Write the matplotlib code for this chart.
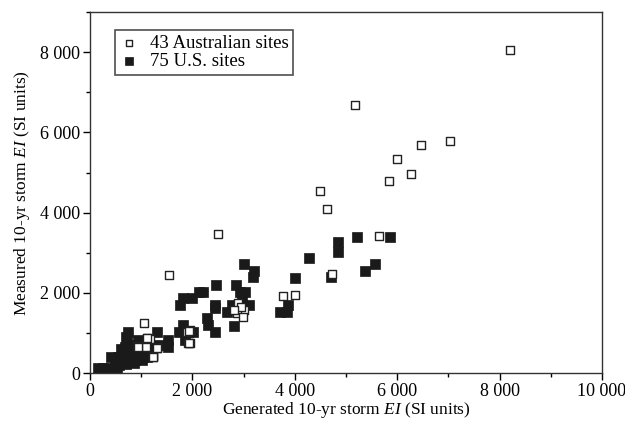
import matplotlib.pyplot as plt
from matplotlib.ticker import MultipleLocator, FuncFormatter

plt.rcParams['font.family'] = 'Liberation Serif'
plt.rcParams['mathtext.fontset'] = 'custom'
plt.rcParams['mathtext.it'] = 'Liberation Serif:italic'
plt.rcParams['mathtext.rm'] = 'Liberation Serif'

# 43 Australian sites (generated, measured)
aus_x = [8200, 7030, 6470, 6000, 6280, 5840, 5180, 4500, 4630, 5650,
         4720, 4000, 3780, 2500, 1550, 1050, 1120, 1950, 1920, 1310,
         1240, 1090, 920, 2900, 3000, 2870, 2980, 1170, 1090, 1300,
         1890, 1240, 1100, 1230, 930, 2950, 1930, 1310, 1300, 1120,
         2820, 1950, 1940]
aus_y = [8050, 5790, 5680, 5330, 4960, 4780, 6680, 4530, 4100, 3430,
         2470, 1950, 1920, 3470, 2440, 1240, 870, 1070, 740, 640,
         410, 660, 670, 1740, 1570, 1490, 1400, 860, 670, 630,
         1030, 420, 650, 400, 660, 1650, 1060, 640, 630, 880,
         1560, 740, 750]

# 75 U.S. sites
us_x = [150, 250, 350, 530, 420, 550, 750, 720, 680, 650,
        780, 910, 620, 750, 880, 1010, 940, 980, 1040, 1110,
        1140, 1170, 1300, 1530, 1530, 1730, 1820, 1860, 1920, 2020,
        1760, 1820, 1990, 2120, 2210, 2470, 2280, 2310, 2440, 2440,
        2440, 2670, 2770, 2820, 3110, 2930, 3030, 2960, 2850, 3000,
        3200, 3190, 3710, 3840, 3870, 4010, 4280, 4700, 4840, 4840,
        5220, 5860, 5380, 5570, 560, 700, 850, 600, 820, 900,
        700, 1200, 1350, 1100, 480]
us_y = [120, 120, 120, 120, 410, 410, 1030, 820, 660, 490,
        490, 490, 320, 320, 320, 320, 820, 620, 410, 410,
        660, 490, 1030, 820, 660, 1030, 1200, 820, 1030, 1030,
        1700, 1860, 1860, 2030, 2030, 2200, 1360, 1200, 1030, 1610,
        1700, 1530, 1700, 1170, 1700, 2030, 2030, 1860, 2200, 2710,
        2540, 2390, 1530, 1530, 1700, 2380, 2880, 2390, 3260, 3030,
        3400, 3400, 2540, 2720, 200, 230, 250, 600, 700, 400,
        900, 550, 700, 800, 280]

fig = plt.figure(figsize=(6.25, 4.21), dpi=100)
ax = fig.add_axes([0.144, 0.114, 0.819, 0.857])

us = ax.scatter(us_x, us_y, marker='s', s=42, c='#1a1a1a', edgecolors='#1a1a1a',
                linewidths=0.5, label='75 U.S. sites', zorder=2)
au = ax.scatter(aus_x, aus_y, marker='s', s=26, facecolors='white',
                edgecolors='#222222', linewidths=1.0, label='43 Australian sites', zorder=3)

ax.set_xlim(0, 10000)
ax.set_ylim(0, 9000)
ax.xaxis.set_major_locator(MultipleLocator(2000))
ax.xaxis.set_minor_locator(MultipleLocator(1000))
ax.yaxis.set_major_locator(MultipleLocator(2000))
ax.yaxis.set_minor_locator(MultipleLocator(1000))
fmt = FuncFormatter(lambda v, p: f'{int(v):,}'.replace(',', ' '))
ax.xaxis.set_major_formatter(fmt)
ax.yaxis.set_major_formatter(fmt)
ax.tick_params(which='major', direction='out', length=5, width=1, labelsize=13, pad=2)
ax.tick_params(which='minor', direction='out', length=3, width=1)
for sp in ax.spines.values():
    sp.set_linewidth(1.0)
    sp.set_color('#333333')

ax.set_xlabel('Generated 10-yr storm $EI$ (SI units)', fontsize=12.5, labelpad=0)
ax.set_ylabel('Measured 10-yr storm $EI$ (SI units)', fontsize=12.5, labelpad=6)

leg = ax.legend(handles=[au, us], loc='upper left', bbox_to_anchor=(0.049, 0.95),
                borderaxespad=0, fontsize=13.5, frameon=True, fancybox=False,
                edgecolor='#222222', handletextpad=0.6, borderpad=0.25,
                labelspacing=0.05, handlelength=1.0, markerscale=0.8)
leg.get_frame().set_linewidth(1.2)

fig.savefig('out.png', dpi=100)
